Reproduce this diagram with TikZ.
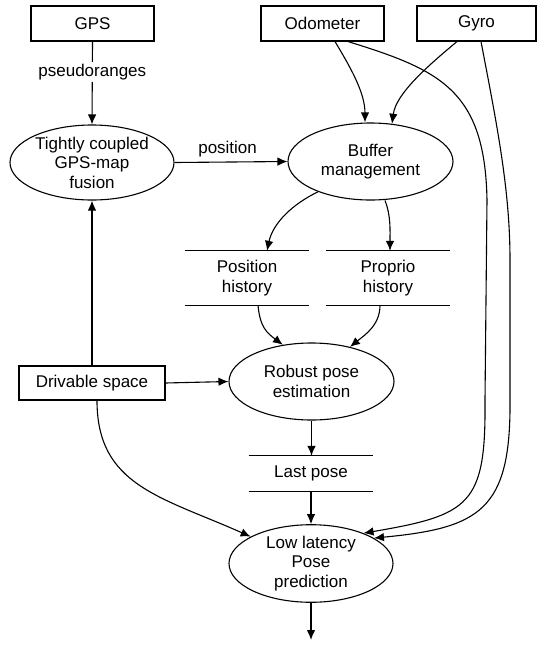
\documentclass[tikz,border=0pt]{standalone}
\usepackage{fontspec}
\setmainfont{Liberation Sans}
\usetikzlibrary{shapes.geometric,arrows.meta,calc}
\begin{document}
\begin{tikzpicture}[x=1pt,y=-1pt,
  every node/.style={font=\fontsize{17}{19.5}\selectfont, align=center, inner sep=0pt},
  box/.style={draw, line width=1.1pt, minimum height=35pt},
  proc/.style={draw, ellipse, line width=1.1pt, minimum width=165pt, minimum height=77pt},
  store/.style={minimum width=124pt, minimum height=54pt},
  conn/.style={line width=1.1pt, -{Latex[length=10pt,width=8.5pt]}},
  plain/.style={line width=1.1pt}
]
\useasboundingbox (0,0) rectangle (537,646);

% boxes
\node[box, minimum width=123pt] (gps) at (92.5,23.5) {GPS};
\node[box, minimum width=123pt] (odo) at (322.5,23.5) {Odometer};
\node[box, minimum width=119pt] (gyro) at (476.5,23.5) {Gyro};
\node[box, minimum width=146pt, minimum height=34pt] (drv) at (92,383) {Drivable space};

% processes
\node[proc, minimum width=164pt, minimum height=75pt] (fus) at (92,162.5) {Tightly coupled\\GPS-map\\fusion};
\node[proc] (buf) at (370.5,161.5) {Buffer\\management};
\node[proc] (rob) at (311.5,381.5) {Robust pose\\estimation};
\node[proc, minimum width=164pt] (low) at (311,563.5) {Low latency\\Pose\\prediction};

% stores
\node[store] (ph) at (247,278) {Position\\history};
\node[store] (pr) at (388,278) {Proprio\\history};
\node[store, minimum height=35pt] (lp) at (311,473.5) {Last pose};
\foreach \s in {ph,pr,lp}{
  \draw[plain] (\s.north west) -- (\s.north east);
  \draw[plain] (\s.south west) -- (\s.south east);
}

\coordinate (out) at (311,640);

% straight connectors
\draw[conn] (gps.south) -- node[pos=0.37, fill=white, inner sep=2pt] {pseudoranges} (fus.north);
\draw[conn] (fus.east) -- node[pos=0.47, yshift=13pt] {position} (buf.west);
\draw[conn] (drv.north) -- (fus.south);
\draw[conn] (drv.east) -- (rob.west);
\draw[conn] (rob.south) -- (rob.south |- lp.north);
\draw[conn] (lp.south) -- (low.north);
\draw[conn] (low.south) -- (out);

% curved connectors
\draw[conn] ([xshift=12.5pt]odo.south) .. controls +(15,25) and +(0,-30) .. ([xshift=-5.5pt]buf.north);
\draw[conn] ([xshift=-19.5pt]gyro.south) .. controls +(-30,25) and +(4,-30) .. ([xshift=21.5pt,yshift=-1.3pt]buf.north);
\draw[conn] (buf.210) .. controls +(-25,12) and +(6,-28) .. ([xshift=20pt]ph.north);
\draw[conn] ([xshift=14.5pt]buf.south) .. controls +(6,15) and +(0,-20) .. ([xshift=2pt]pr.north);
\draw[conn] ([xshift=11pt]ph.south) .. controls +(2,22) and +(-16,-12) .. (rob.128);
\draw[conn] ([xshift=-8pt]pr.south) .. controls +(0,20) and +(15,-12) .. (rob.42);
\draw[conn] ([xshift=5pt]drv.south) .. controls +(0,85) and +(-90,-40) .. (low.156);
\draw[conn] ([xshift=25.5pt]odo.south) .. controls (440,70) and (485,90) .. (487,200)
   -- (485,400) .. controls (486,505) and (470,515) .. (low.30);
\draw[conn] ([xshift=4.5pt]gyro.south) .. controls (497,125) and (510,190) .. (510,260)
   -- (510,400) .. controls (511,510) and (480,528) .. (low.22);
\end{tikzpicture}
\end{document}
